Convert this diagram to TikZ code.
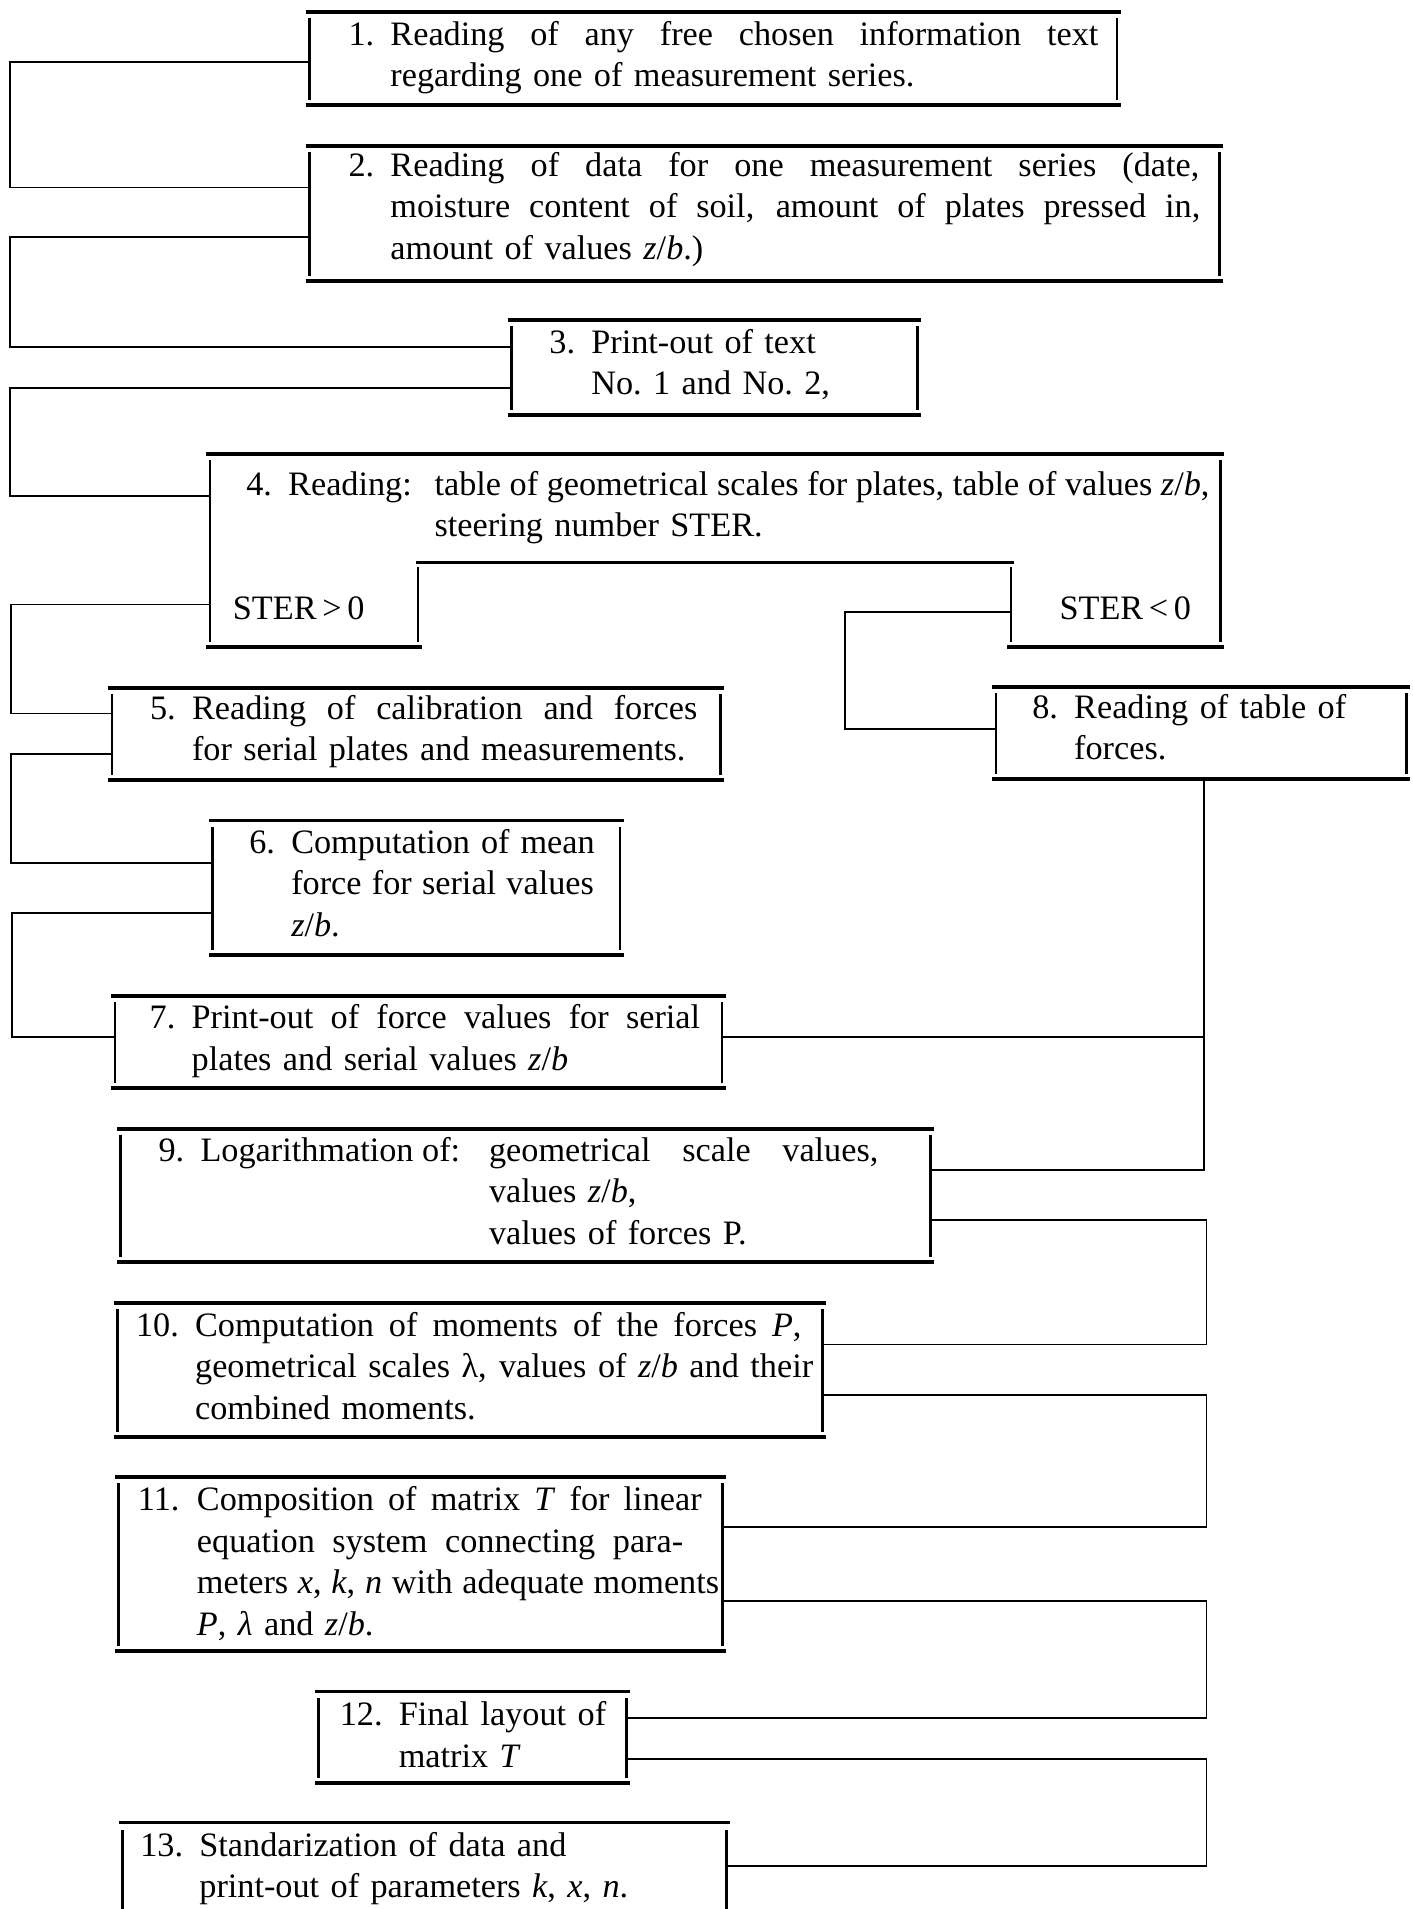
\documentclass[tikz,border=0pt]{standalone}
\usepackage{fontspec}
\setmainfont{Liberation Serif}
\usetikzlibrary{calc}

\newcommand{\zb}{\textit{z}/\textit{b}}
\newcommand{\stepnum}[2][24.5pt]{\makebox[#1][l]{#2}}
\newcommand{\ind}[1][24.5pt]{\hspace*{#1}}
\newcommand{\jline}[2]{\makebox[#1][s]{\spaceskip=0pt\xspaceskip=0pt #2}}

\tikzset{
  stepbox/.style 2 args={inner sep=0pt, anchor=north west,
    minimum width=#1*0.025cm, minimum height=#2*0.025cm},
  steptext/.style={inner sep=0pt, anchor=base west, text width=600pt,
    font=\fontsize{20pt}{24.2pt}\selectfont},
  sterlabel/.style={inner sep=0pt, anchor=base west,
    font=\fontsize{20pt}{24.2pt}\selectfont},
  rule/.style={line width=2.2pt},
  bar/.style={line width=1.5pt},
  link/.style={line width=1.1pt},
}

\begin{document}
\begin{tikzpicture}[x=0.025cm, y=-0.025cm]
\useasboundingbox (0,0) rectangle (1160,1568);

% frames of the steps
\node[stepbox={663}{75.8}] (b1) at (254,9.6) {};
\node[stepbox={747}{110}] (b2) at (254,120) {};
\node[stepbox={333}{77}] (b3) at (420,263) {};
\node[stepbox={829.5}{158}] (b4) at (172.5,373) {};
\node[stepbox={499}{75}] (b5) at (92,565) {};
\node[stepbox={334}{109.7}] (b6) at (174.7,674) {};
\node[stepbox={498.2}{75}] (b7) at (94.4,818) {};
\node[stepbox={336.6}{75}] (b8) at (818,564) {};
\node[stepbox={664.6}{109}] (b9) at (99,927) {};
\node[stepbox={578.3}{109.6}] (b10) at (96.7,1070.4) {};
\node[stepbox={495.6}{142.4}] (b11) at (97.4,1213) {};
\node[stepbox={252.1}{74.6}] (b12) at (261.7,1389.4) {};
\node[stepbox={495.6}{100}] (b13) at (100.4,1497) {};

\foreach \b in {b1,b2,b3,b5,b6,b7,b8,b9,b10,b11,b12} {
  \draw[rule] ($(\b.north west)+(-3,0)$) -- ($(\b.north east)+(3,0)$);
  \draw[rule] ($(\b.south west)+(-3,0)$) -- ($(\b.south east)+(3,0)$);
  \draw[bar] ($(\b.north west)+(0,5)$) -- ($(\b.south west)+(0,-4)$);
  \draw[bar] ($(\b.north east)+(0,5)$) -- ($(\b.south east)+(0,-4)$);
}

% step 4 with its two exits
\coordinate (n4l) at (343.5,462);
\coordinate (n4r) at (830.5,462);
\draw[rule] ($(b4.north west)+(-3,0)$) -- ($(b4.north east)+(3,0)$);
\draw[bar] ($(b4.north west)+(0,5)$) -- ($(b4.south west)+(0,-4)$);
\draw[bar] ($(b4.north east)+(0,5)$) -- ($(b4.south east)+(0,-4)$);
\draw[rule] ($(b4.south west)+(-3,0)$) -- ($(b4.south west -| n4l)+(3,0)$);
\draw[rule] ($(b4.south east -| n4r)+(-3,0)$) -- ($(b4.south east)+(3,0)$);
\draw[rule] ($(n4l)+(-2,0)$) -- ($(n4r)+(2,0)$);
\draw[bar] ($(n4l)+(0,4)$) -- ($(b4.south west -| n4l)+(0,-4)$);
\draw[bar] ($(n4r)+(0,4)$) -- ($(b4.south east -| n4r)+(0,-4)$);

% last step runs off the page
\draw[rule] ($(b13.north west)+(-3,0)$) -- ($(b13.north east)+(3,0)$);
\draw[bar] ($(b13.north west)+(0,6)$) -- (b13.south west);
\draw[bar] ($(b13.north east)+(0,6)$) -- (b13.south east);

% texts
\node[steptext] (t1) at (286,37) {\jline{438pt}{\stepnum{1.}Reading of any free chosen information text}\\
  \ind regarding one of measurement series.};
\node[steptext] (t2) at (286,145) {\jline{497pt}{\stepnum{2.}Reading of data for one measurement series (date,}\\
  \ind\jline{473pt}{moisture content of soil, amount of plates pressed in,}\\
  \ind amount of values \zb.)};
\node[steptext] (t3) at (451,290) {\stepnum{3.}Print-out of text\\
  \ind No.\ 1 and No.\ 2,};
\node[steptext] (t4) at (202,407) {\jline{562.6pt}{\makebox[110pt][l]{\stepnum{4.}Reading:}table of geometrical scales for plates, table of values \zb,}\\
  \ind[110pt]steering number STER.};
\node[sterlabel] (s1) at (191,509) {STER\,>\,0};
\node[sterlabel] (s2) at (870,509) {STER\,<\,0};
\node[steptext] (t5) at (123,591) {\jline{319.7pt}{\stepnum{5.}Reading of calibration and forces}\\
  \ind for serial plates and measurements.};
\node[steptext] (t6) at (204.5,701) {\jline{201.7pt}{\stepnum{6.}Computation of mean}\\
  \ind\jline{176.8pt}{force for serial values}\\
  \ind\zb.};
\node[steptext] (t7) at (122.7,845) {\jline{321.5pt}{\stepnum{7.}Print-out of force values for serial}\\
  \ind plates and serial values \zb};
\node[steptext] (t8) at (847.6,590) {\stepnum{8.}Reading of table of\\
  \ind forces.};
\node[steptext] (t9) at (130,954) {\jline{420.4pt}{\makebox[193pt][l]{\stepnum{9.}Logarithmation of:}geometrical scale values,}\\
  \ind[193pt]values \zb,\\
  \ind[193pt]values of forces P.};
\node[steptext] (t10) at (111.5,1097.7) {\jline{388.7pt}{\stepnum[34.5pt]{10.}Computation of moments of the forces \textit{P},}\\
  \ind[34.5pt]\jline{361pt}{geometrical scales λ, values of \zb{} and their}\\
  \ind[34.5pt]combined moments.};
\node[steptext] (t11) at (113,1241) {\jline{329.3pt}{\stepnum[34.5pt]{11.}Composition of matrix \textit{T} for linear}\\
  \ind[34.5pt]\jline{284pt}{equation system connecting para-}\\
  \ind[34.5pt]\jline{305pt}{meters \textit{x}, \textit{k}, \textit{n} with adequate moments}\\
  \ind[34.5pt]\textit{P}, \textit{λ} and \zb.};
\node[steptext] (t12) at (278.8,1417.4) {\stepnum[34.5pt]{12.}Final layout of\\
  \ind[34.5pt]matrix \textit{T}};
\node[steptext] (t13) at (115,1524.5) {\stepnum[34.5pt]{13.}Standarization of data and\\
  \ind[34.5pt]print-out of parameters \textit{k}, \textit{x}, \textit{n}.};

% left side connections
\draw[link] (b1.west |- 0,50.7) -- (8,50.7) |- (b2.west |- 0,154);
\draw[link] (b2.west |- 0,195) -- (8,195) |- (b3.west |- 0,285);
\draw[link] (b3.west |- 0,318.5) -- (8,318.5) |- (b4.west |- 0,407.4);
\draw[link] (b4.west |- 0,496.5) -- (9,496.5) |- (b5.west |- 0,586);
\draw[link] (b5.west |- 0,619) -- (9,619) |- (b6.west |- 0,708.7);
\draw[link] (b6.west |- 0,749.7) -- (10,749.7) |- (b7.west |- 0,852);

% STER<0 branch
\draw[link] (n4r |- 0,502.5) -- (694,502.5) |- (b8.west |- 0,599);

% right side connections
\coordinate (join7) at (989,851.6);
\draw[link] (b8.south -| 989,0) -- (989,961) -- (b9.east |- 0,961);
\draw[link] (b7.east |- join7) -- (join7);
\draw[link] (b9.east |- 0,1002) -- (991,1002) |- (b10.east |- 0,1104.3);
\draw[link] (b10.east |- 0,1145.5) -- (991,1145.5) |- (b11.east |- 0,1254.3);
\draw[link] (b11.east |- 0,1315.2) -- (991,1315.2) |- (b12.east |- 0,1410.8);
\draw[link] (b12.east |- 0,1444.8) -- (991,1444.8) |- (b13.east |- 0,1532.7);
\end{tikzpicture}
\end{document}
